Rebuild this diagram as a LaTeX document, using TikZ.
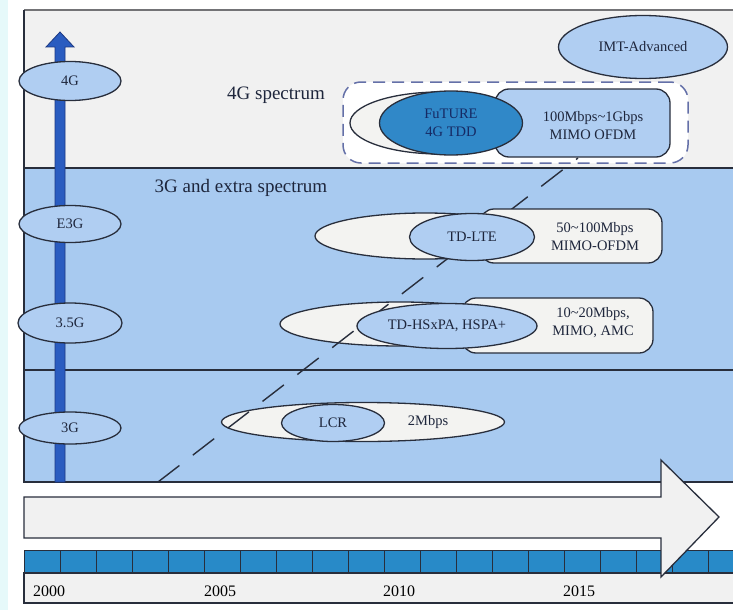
\documentclass[tikz,border=0pt]{standalone}
\usepackage{fontspec}
\setmainfont{Liberation Serif}
\usetikzlibrary{shapes.geometric,calc}
\definecolor{sidecyan}{RGB}{230,249,250}
\definecolor{bandgray}{RGB}{241,241,241}
\definecolor{bandblue}{RGB}{168,202,240}
\definecolor{ellblue}{RGB}{176,206,242}
\definecolor{paleblk}{RGB}{243,243,241}
\definecolor{futblue}{RGB}{48,136,200}
\definecolor{shaftblue}{RGB}{42,92,192}
\definecolor{shaftedge}{RGB}{28,56,130}
\definecolor{cellblue}{RGB}{40,138,200}
\definecolor{dashgray}{RGB}{100,112,168}
\definecolor{topgray}{RGB}{115,115,118}
\definecolor{edge}{RGB}{40,46,60}
\definecolor{txt}{RGB}{30,38,60}
\definecolor{futtxt}{RGB}{22,42,100}

\begin{document}
\begin{tikzpicture}[x=1pt,y=1pt,yscale=-1,
  lbl/.style={font=\fontsize{14.5}{18}\selectfont, text=txt, align=center},
  gen/.style={ellipse, draw=edge, line width=1.3pt, fill=ellblue, inner sep=0pt, lbl},
  pale/.style={ellipse, draw=edge, line width=1.3pt, fill=paleblk, inner sep=0pt},
  rate/.style={rectangle, draw=edge, line width=1.3pt, fill=paleblk, rounded corners=14pt, inner sep=0pt},
  bandline/.style={draw=edge, line width=1.2pt},
  trend/.style={draw=edge, line width=1.4pt, dash pattern=on 27pt off 17pt},
  cell/.style={rectangle, draw=edge, fill=cellblue, line width=0.9pt, minimum width=36pt, minimum height=23pt, inner sep=0pt, anchor=north west},
  year/.style={font=\fontsize{16}{18}\selectfont, text=black, anchor=west, inner sep=0pt},
  heading/.style={font=\fontsize{19}{22}\selectfont, text=txt, inner sep=0pt}
]
\useasboundingbox (0,0) rectangle (733,610);
\clip (0,0) rectangle (733,610);
\fill[white] (0,0) rectangle (733,610);
\fill[sidecyan] (0,0) rectangle (8,610);

% spectrum bands
\fill[bandgray] (24,10) rectangle (733,168);
\fill[bandblue] (24,168) rectangle (733,482);
\draw[topgray, line width=2.5pt] (24,10) -- (733,10);
\draw[bandline] (24,10) -- (24,482) -- (733,482);
\draw[bandline] (24,168) -- (733,168);
\draw[bandline] (24,370) -- (733,370);

\node[heading] (spec4) at (276,95) {4G spectrum};
\node[heading] (spec3) at (241,188) {3G and extra spectrum};

% generation axis
\draw[draw=shaftedge, fill=shaftblue, line width=0.8pt] (55,482) -- (55,47) -- (46,47) -- (60,32) -- (74,47) -- (65,47) -- (65,482) -- cycle;
\node[gen, minimum width=102pt, minimum height=39pt] (g4) at (70,81) {4G};
\node[gen, minimum width=102pt, minimum height=37pt] (e3g) at (70,224) {E3G};
\node[gen, minimum width=104pt, minimum height=40pt] (g35) at (70,323) {3.5G};
\node[gen, minimum width=102pt, minimum height=32pt] (g3) at (70,428) {3G};

\node[gen, minimum width=169pt, minimum height=63pt] (imt) at (643,47) {IMT-Advanced};

% 4G row
\node[rectangle, draw=dashgray, fill=white, line width=1.5pt, dash pattern=on 12pt off 7pt,
  rounded corners=18pt, minimum width=345pt, minimum height=81pt, inner sep=0pt] (box4) at (515.5,122.5) {};
\node[pale, minimum width=180pt, minimum height=62pt] (pale4) at (440,123) {};

% outer ellipses of the lower rows
\node[pale, minimum width=220pt, minimum height=46pt] (palelte) at (425,236) {};
\node[pale, minimum width=240pt, minimum height=44pt] (palehs) at (400,324) {};
\node[pale, minimum width=283pt, minimum height=39pt] (palelcr) at (363,422) {};

% trend
\coordinate (trendlo) at (158,482);
\coordinate (trendhi) at (578,158);
\draw[trend] (trendlo) -- (trendhi);

% rates
\node[rate, fill=ellblue, minimum width=175pt, minimum height=68pt] (rate4) at (582.5,123) {};
\node[lbl] (rate4t) at (593,126) {100Mbps\textasciitilde1Gbps\\MIMO OFDM};
\node[rate, minimum width=182pt, minimum height=54pt] (ratelte) at (571,236) {};
\node[lbl] (ratelte t) at (595,237) {50\textasciitilde100Mbps\\MIMO-OFDM};
\node[rate, minimum width=191pt, minimum height=55pt] (ratehs) at (557.5,325.5) {};
\node[lbl] (ratehs t) at (593,323) {10\textasciitilde20Mbps,\\MIMO, AMC};
\node[lbl] (ratelcr) at (428,422) {2Mbps};

% technologies
\node[gen, fill=futblue, text=futtxt, minimum width=143pt, minimum height=64pt] (future) at (451,123) {FuTURE\\4G TDD};
\node[gen, minimum width=125pt, minimum height=47pt] (tdlte) at (472,237) {TD-LTE};
\node[gen, minimum width=180pt, minimum height=45pt] (tdhs) at (447,326) {TD-HSxPA, HSPA+};
\node[gen, minimum width=103pt, minimum height=37pt] (lcr) at (333,423) {LCR};

% time line
\foreach \k in {0,...,19}
  \node[cell] (cell\k) at ({24+36*\k},550) {};
\draw[draw=edge, fill=bandgray, line width=1.2pt] (24,573) rectangle (740,603);
\node[year] (y2000) at (33,591) {2000};
\node[year] (y2005) at (204,591) {2005};
\node[year] (y2010) at (383,591) {2010};
\node[year] (y2015) at (563,591) {2015};

\draw[draw=edge, fill=bandgray, line width=1.3pt] (24,497) -- (661,497) -- (661,460) -- (719,517) -- (661,577) -- (661,538) -- (24,538) -- cycle;
\end{tikzpicture}
\end{document}
